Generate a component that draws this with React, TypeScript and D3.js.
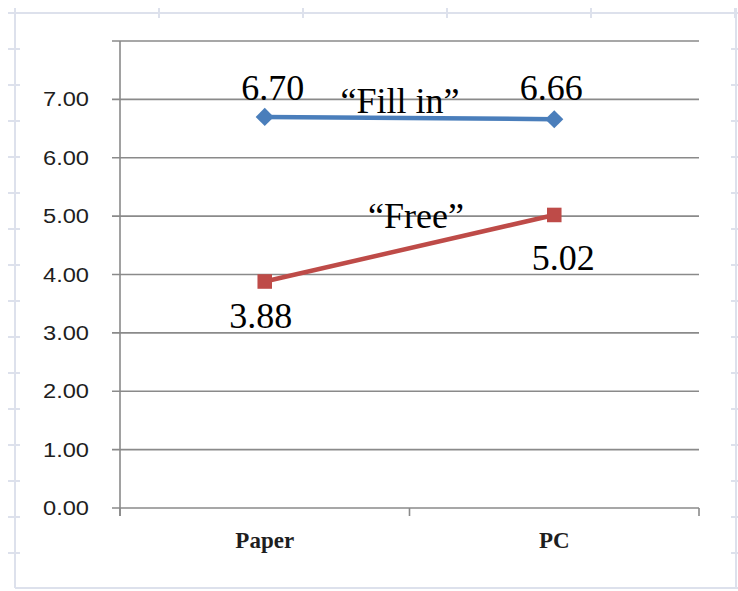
import React from "react";
import * as d3 from "d3";

// Chart data
const categories = ["Paper", "PC"];
const fillInValues = [6.7, 6.66];
const freeValues = [3.88, 5.02];
const yTickValues = [0, 1, 2, 3, 4, 5, 6, 7];
const yGridValues = [0, 1, 2, 3, 4, 5, 6, 7, 8];
const seriesNames = ["\u201cFill in\u201d", "\u201cFree\u201d"];

const W = 738;
const H = 591;

// Plot area
const plot = { left: 120, right: 699, top: 41, bottom: 508 };

// Sheet background grid
const sheet = { left: 15, right: 736, top: 13, bottom: 588 };
const sheetColStep = 144;
const sheetRowStep = 36;

const x = d3
  .scaleBand<string>()
  .domain(categories)
  .range([plot.left, plot.right]);
const y = d3.scaleLinear().domain([0, 8]).range([plot.bottom, plot.top]);

const cx = (c: string) => (x(c) as number) + x.bandwidth() / 2;

const lineGen = d3
  .line<[number, number]>()
  .x((d) => d[0])
  .y((d) => d[1]);

const BLUE = "#4a7ebb";
const RED = "#be4b48";
const GRID = "#8a8a8a";
const SHEET = "#dde1ec";

export default function App() {
  const fillPts: [number, number][] = categories.map((c, i) => [cx(c), y(fillInValues[i])]);
  const freePts: [number, number][] = categories.map((c, i) => [cx(c), y(freeValues[i])]);

  const sheetCols = d3.range(sheet.left, sheet.right + 1, sheetColStep);
  const sheetRows = d3.range(sheet.top, sheet.bottom + 1, sheetRowStep);

  const diamond = d3.symbol(d3.symbolDiamond2, 210)() as string;
  const square = d3.symbol(d3.symbolSquare2, 270)() as string;

  const labelStyle = {
    fontFamily: "'Liberation Serif', 'Times New Roman', serif",
    fontSize: 36,
    fill: "#000",
  } as const;

  // Value label offsets relative to their points
  const fillLabelOffsets = [
    [8, -17],
    [-3, -19],
  ];
  const freeLabelOffsets = [
    [-4, 46],
    [9, 55],
  ];

  return (
    <svg
      width={W}
      height={H}
      style={{ position: "absolute", left: 0, top: 0, background: "#fff" }}
    >
      {/* sheet frame */}
      <g stroke={SHEET} strokeWidth={2} fill="none">
        <line x1={8} x2={W} y1={sheet.top} y2={sheet.top} />
        <line x1={sheet.left} x2={sheet.left} y1={8} y2={sheet.bottom} />
        <line x1={sheet.right} x2={sheet.right} y1={8} y2={sheet.bottom} />
        <line x1={sheet.left} x2={W} y1={sheet.bottom} y2={sheet.bottom} />
        {sheetCols.map((c) => (
          <line key={"c" + c} x1={c} x2={c} y1={sheet.top - 5} y2={sheet.top + 5} />
        ))}
        {sheetRows.map((r) => (
          <g key={"r" + r}>
            <line x1={sheet.left - 7} x2={sheet.left + 5} y1={r} y2={r} />
            <line x1={sheet.right - 5} x2={sheet.right + 5} y1={r} y2={r} />
          </g>
        ))}
      </g>

      {/* gridlines */}
      <g stroke={GRID} strokeWidth={1.6}>
        {yGridValues.map((v) => (
          <line key={v} x1={plot.left - 8} x2={plot.right} y1={y(v)} y2={y(v)} />
        ))}
        <line x1={plot.left} x2={plot.left} y1={plot.top} y2={plot.bottom + 8} />
        {[plot.left, ...categories.map((c) => (x(c) as number) + x.bandwidth())].map((t, i) => (
          <line key={"xt" + i} x1={t} x2={t} y1={plot.bottom} y2={plot.bottom + 8} />
        ))}
      </g>

      {/* y tick labels */}
      <g
        fontFamily="'Liberation Sans', Arial, sans-serif"
        fontSize={20}
        fill="#1e1e1e"
        textAnchor="end"
      >
        {yTickValues.map((v) => (
          <text
            key={v}
            x={89}
            y={y(v) + 7}
            textLength={46}
            lengthAdjust="spacingAndGlyphs"
          >
            {d3.format(".2f")(v)}
          </text>
        ))}
      </g>

      {/* x category labels */}
      <g
        fontFamily="'Liberation Serif', 'Times New Roman', serif"
        fontSize={23}
        fontWeight="bold"
        fill="#1e1e1e"
        textAnchor="middle"
      >
        {categories.map((c) => (
          <text key={c} x={cx(c)} y={plot.bottom + 40}>
            {c}
          </text>
        ))}
      </g>

      {/* series lines */}
      <path d={lineGen(fillPts) as string} stroke={BLUE} strokeWidth={4.5} fill="none" />
      <path d={lineGen(freePts) as string} stroke={RED} strokeWidth={4.5} fill="none" />
      {fillPts.map((p, i) => (
        <path key={"fm" + i} d={diamond} transform={`translate(${p[0]},${p[1]})`} fill={BLUE} />
      ))}
      {freePts.map((p, i) => (
        <path key={"rm" + i} d={square} transform={`translate(${p[0]},${p[1]})`} fill={RED} />
      ))}

      {/* value labels */}
      <g {...labelStyle} textAnchor="middle">
        {fillPts.map((p, i) => (
          <text key={"fl" + i} x={p[0] + fillLabelOffsets[i][0]} y={p[1] + fillLabelOffsets[i][1]}>
            {d3.format(".2f")(fillInValues[i])}
          </text>
        ))}
        {freePts.map((p, i) => (
          <text key={"rl" + i} x={p[0] + freeLabelOffsets[i][0]} y={p[1] + freeLabelOffsets[i][1]}>
            {d3.format(".2f")(freeValues[i])}
          </text>
        ))}
      </g>

      {/* series names */}
      <g {...labelStyle} textAnchor="middle">
        <text x={400} y={y(6.77)}>
          {seriesNames[0]}
        </text>
        <text x={416} y={y(4.8)}>
          {seriesNames[1]}
        </text>
      </g>
    </svg>
  );
}
